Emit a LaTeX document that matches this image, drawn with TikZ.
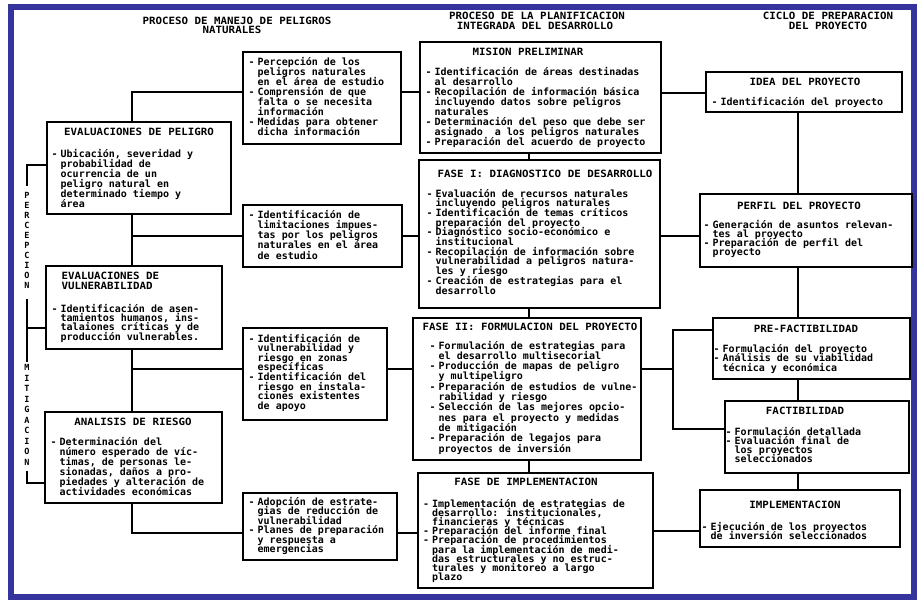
\documentclass[tikz,border=0pt]{standalone}
\usepackage{fontspec}
\newfontfamily\pf{DejaVu Sans Mono}
\newfontfamily\pft{DejaVu Sans Mono}[FakeStretch=1.08]
\usetikzlibrary{fit}
\definecolor{frameblue}{RGB}{52,52,156}
\newcommand\dl{\makebox[9pt][l]{-}}
\newcommand\cl{\hspace*{9pt}}
\newcommand\ib[2]{\parbox[t]{300pt}{\fontsize{10}{#1}\selectfont\lineskiplimit=-20pt\lineskip=0pt\relax #2}}
\newcommand\vb[2]{\parbox[t]{10pt}{\centering\fontsize{8.5}{#1}\selectfont\lineskiplimit=-20pt\lineskip=0pt\relax #2}}
\begin{document}
\begin{tikzpicture}[x=1pt,y=-1pt,
  bx/.style={draw, line width=1.2pt, fill=white, inner sep=0pt},
  ttl/.style={font=\pft\bfseries\fontsize{10}{10}\selectfont, inner sep=0pt, anchor=base},
  itm/.style={font=\pf\bfseries, inner sep=0pt, anchor=base west},
  hdr/.style={font=\pft\bfseries\fontsize{10}{10}\selectfont, inner sep=0pt, anchor=base},
  vl/.style={font=\pf\bfseries, inner sep=0pt, anchor=base},
  cn/.style={line width=1.2pt},
  frame/.style={draw=frameblue, line width=6pt}
]
\useasboundingbox (0,0) rectangle (918,600);
\fill[white] (0,0) rectangle (918,600);
\draw[frame] (11,7) rectangle (914,597);

% headers
\node[hdr] (h1a) at (237,24) {PROCESO DE MANEJO DE PELIGROS};
\node[hdr] (h1b) at (232,33) {NATURALES};
\node[hdr] (h2a) at (537,19.5) {PROCESO DE LA PLANIFICACION};
\node[hdr] (h2b) at (535,29) {INTEGRADA DEL DESARROLLO};
\node[hdr] (h3a) at (828,19.5) {CICLO DE PREPARACION};
\node[hdr] (h3b) at (828,29) {DEL PROYECTO};

% coordinates for connector bends
\coordinate (tr) at (132,0);
\coordinate (yA) at (0,92);
\coordinate (j1) at (132,236);
\coordinate (j2) at (132,369);
\coordinate (yD) at (0,533);
\coordinate (mx) at (529,0);
\coordinate (rx) at (798,0);
\coordinate (yM0) at (0,93);
\coordinate (yM1) at (0,236);
\coordinate (k) at (673,369);
\coordinate (kt) at (673,330);
\coordinate (kb) at (673,429);
\coordinate (yR5) at (0,531);
\coordinate (b1) at (27,165);
\coordinate (b1e) at (27,186);
\coordinate (b2s) at (27,299);
\coordinate (b2m) at (27,328);
\coordinate (b2e) at (27,362);
\coordinate (b3s) at (27,471);
\coordinate (b3) at (27,483);

% boxes
\node[bx, fit={(47,122) (231,214)}] (P1) {};
\node[bx, fit={(46,266) (222,349)}] (P2) {};
\node[bx, fit={(45,412) (222,503)}] (P3) {};
\node[bx, fit={(243,52) (401,144)}] (A) {};
\node[bx, fit={(243,205) (402,267)}] (B) {};
\node[bx, fit={(243,328) (387,420)}] (C) {};
\node[bx, fit={(243,493) (397,560)}] (D) {};
\node[bx, fit={(420,42) (661,153)}] (M0) {};
\node[bx, fit={(419,160) (660,308)}] (M1) {};
\node[bx, fit={(413,318) (641,460)}] (M2) {};
\node[bx, fit={(418,473) (653,588)}] (M3) {};
\node[bx, fit={(706,72) (902,112)}] (R1) {};
\node[bx, fit={(700,194) (912,267)}] (R2) {};
\node[bx, fit={(713,318) (910,379)}] (R3) {};
\node[bx, fit={(725,401) (909,473)}] (R4) {};
\node[bx, fit={(700,490) (900,547)}] (R5) {};

% connectors
\draw[cn] (A.west |- yA) -| (P1.north -| tr);
\draw[cn] (P1.south -| tr) -- (P2.north -| tr);
\draw[cn] (j1) -- (B.west |- j1);
\draw[cn] (P2.south -| tr) -- (P3.north -| tr);
\draw[cn] (j2) -- (C.west |- j2);
\draw[cn] (P3.south -| tr) |- (D.west |- yD);
\draw[cn] (A.east |- yA) -- (M0.west |- yA);
\draw[cn] (B.east |- j1) -- (M1.west |- j1);
\draw[cn] (C.east |- j2) -- (M2.west |- j2);
\draw[cn] (D.east |- yD) -- (M3.west |- yD);
\draw[cn] (M0.east |- yM0) -- (R1.west |- yM0);
\draw[cn] (M1.east |- yM1) -- (R2.west |- yM1);
\draw[cn] (M2.east |- k) -- (k);
\draw[cn] (R3.west |- kt) -- (kt) -- (kb) -- (R4.west |- kb);
\draw[cn] (M3.east |- yR5) -- (R5.west |- yR5);
\draw[cn] (M0.south -| mx) -- (M1.north -| mx);
\draw[cn] (M1.south -| mx) -- (M2.north -| mx);
\draw[cn] (M2.south -| mx) -- (M3.north -| mx);
\draw[cn] (R1.south -| rx) -- (R2.north -| rx);
\draw[cn] (R2.south -| rx) -- (R3.north -| rx);
\draw[cn] (R3.south -| rx) -- (R4.north -| rx);
\draw[cn] (R4.south -| rx) -- (R5.north -| rx);
\draw[cn] (P1.west |- b1) -- (b1) -- (b1e);
\draw[cn] (b2s) -- (b2e);
\draw[cn] (b2m) -- (P2.west |- b2m);
\draw[cn] (b3s) -- (b3) -- (P3.west |- b3);

% side labels
\node[vl] (perc) at (27,198.5) {\vb{10}{P\\E\\R\\C\\E\\P\\C\\I\\O\\N}};
\node[vl] (mitig) at (27,370.5) {\vb{10.5}{M\\I\\T\\I\\G\\A\\C\\I\\O\\N}};

% left column texts
\node[ttl] (P1t) at (139,135.5) {EVALUACIONES DE PELIGRO};
\node[itm] (P1i) at (51.5,157) {\ib{10}{\dl Ubicación, severidad y\\\cl probabilidad de\\\cl ocurrencia de un\\\cl peligro natural en\\\cl determinado tiempo y\\\cl área}};
\node[itm, font=\pft\bfseries] (P2t) at (61.5,279.5) {\ib{9.5}{EVALUACIONES DE\\VULNERABILIDAD}};
\node[itm] (P2i) at (51.5,312) {\ib{9.4}{\dl Identificación de asen-\\\cl tamientos humanos, ins-\\\cl talaiones críticas y de\\\cl producción vulnerables.}};
\node[ttl] (P3t) at (133,425) {ANALISIS DE RIESGO};
\node[itm] (P3i) at (50.5,445) {\ib{10}{\dl Determinación del\\\cl número esperado de víc-\\\cl timas, de personas le-\\\cl sionadas, daños a pro-\\\cl piedades y alteración de\\\cl actividades económicas}};

% second column texts
\node[itm] (Ai) at (248.5,65) {\ib{10}{\dl Percepción de los\\\cl peligros naturales\\\cl en el área de estudio\\\dl Comprensión de que\\\cl falta o se necesita\\\cl información\\\dl Medidas para obtener\\\cl dicha información}};
\node[itm] (Bi) at (248.5,218) {\ib{10.3}{\dl Identificación de\\\cl limitaciones impues-\\\cl tas por los peligros\\\cl naturales en el área\\\cl de estudio}};
\node[itm] (Ci) at (248.5,342) {\ib{9.6}{\dl Identificación de\\\cl vulnerabilidad y\\\cl riesgo en zonas\\\cl específicas\\\dl Identificación del\\\cl riesgo en instala-\\\cl ciones existentes\\\cl de apoyo}};
\node[itm] (Di) at (248.5,505) {\ib{9.5}{\dl Adopción de estrate-\\\cl gias de reducción de\\\cl vulnerabilidad\\\dl Planes de preparación\\\cl y respuesta a\\\cl emergencias}};

% middle column texts
\node[ttl] (M0t) at (528,55.5) {MISION PRELIMINAR};
\node[itm] (M0i) at (425.5,75) {\ib{10.1}{\dl Identificación de áreas destinadas\\\cl al desarrollo\\\dl Recopilación de información básica\\\cl incluyendo datos sobre peligros\\\cl naturales\\\dl Determinación del peso que debe ser\\\cl asignado\ \ a los peligros naturales\\\dl Preparación del acuerdo de proyecto}};
\node[ttl] (M1t) at (545,177.5) {FASE I: DIAGNOSTICO DE DESARROLLO};
\node[itm] (M1i) at (426.5,197) {\ib{9.7}{\dl Evaluación de recursos naturales\\\cl incluyendo peligros naturales\\\dl Identificación de temas críticos\\\cl preparación del proyecto\\\dl Diagnóstico socio-económico e\\\cl institucional\\\dl Recopilación de información sobre\\\cl vulnerabilidad a peligros natura-\\\cl les y riesgo\\\dl Creación de estrategias para el\\\cl desarrollo}};
\node[ttl] (M2t) at (530,330.5) {FASE II: FORMULACION DEL PROYECTO};
\node[itm] (M2i) at (429.5,349) {\ib{10.3}{\dl Formulación de estrategias para\\\cl el desarrollo multisecorial\\\dl Producción de mapas de peligro\\\cl y multipeligro\\\dl Preparación de estudios de vulne-\\\cl rabilidad y riesgo\\\dl Selección de las mejores opcio-\\\cl nes para el proyecto y medidas\\\cl de mitigación\\\dl Preparación de legajos para\\\cl proyectos de inversión}};
\node[ttl] (M3t) at (526,485.5) {FASE DE IMPLEMENTACION};
\node[itm] (M3i) at (423,507) {\ib{9.2}{\dl Implementación de estrategias de\\\cl desarrollo: institucionales,\\\cl financieras y técnicas\\\dl Preparación del informe final\\\dl Preparación de procedimientos\\\cl para la implementación de medi-\\\cl das estructurales y no estruc-\\\cl turales y monitoreo a largo\\\cl plazo}};

% right column texts
\node[ttl] (R1t) at (805,85.5) {IDEA DEL PROYECTO};
\node[itm] (R1i) at (711.5,105) {\ib{9}{\dl Identificación del proyecto}};
\node[ttl] (R2t) at (799,209.5) {PERFIL DEL PROYECTO};
\node[itm] (R2i) at (703.5,228) {\ib{9}{\dl Generación de asuntos relevan-\\\cl tes al proyecto\\\dl Preparación de perfil del\\\cl proyecto}};
\node[ttl] (R3t) at (806,332.5) {PRE-FACTIBILIDAD};
\node[itm] (R3i) at (713.5,352) {\ib{9.5}{\dl Formulación del proyecto\\\dl Análisis de su viabilidad\\\cl técnica y económica}};
\node[ttl] (R4t) at (805,414.5) {FACTIBILIDAD};
\node[itm] (R4i) at (725.5,435) {\ib{9.2}{\dl Formulación detallada\\\dl Evaluación final de\\\cl los proyectos\\\cl seleccionados}};
\node[ttl] (R5t) at (795,508.5) {IMPLEMENTACION};
\node[itm] (R5i) at (701.5,530) {\ib{9.2}{\dl Ejecución de los proyectos\\\cl de inversión seleccionados}};
\end{tikzpicture}
\end{document}
